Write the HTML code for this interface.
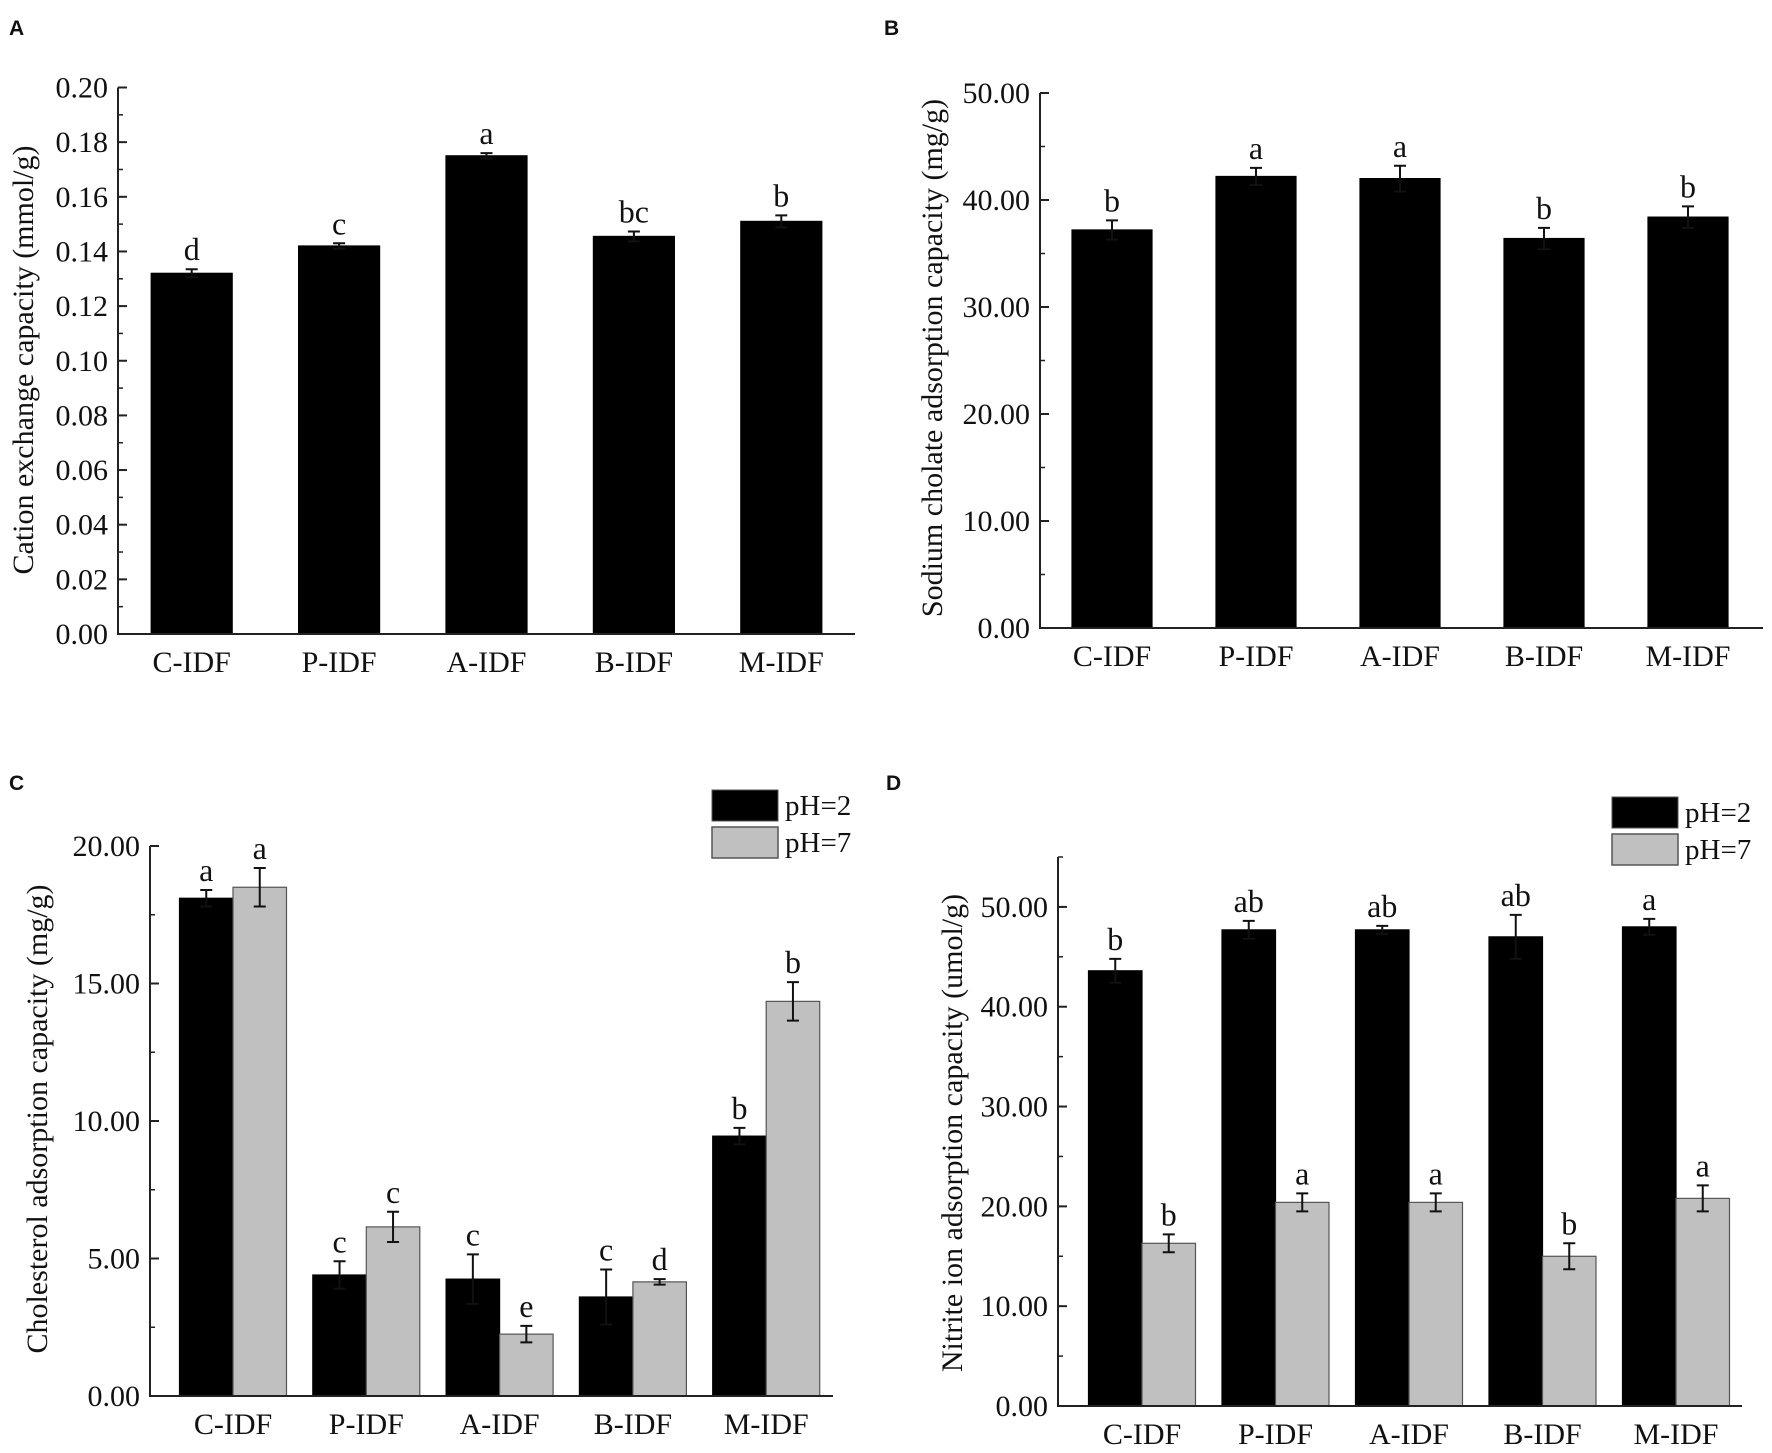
<!DOCTYPE html>
<html><head><meta charset="utf-8">
<style>
html,body{margin:0;padding:0;background:#fff;}
svg{display:block;}
text{font-family:"Liberation Serif",serif;fill:#111;}
.pl{font-family:"Liberation Sans",sans-serif;font-weight:bold;font-size:21px;}
</style></head>
<body>
<svg id="fig" width="1772" height="1453" viewBox="0 0 1772 1453" xmlns="http://www.w3.org/2000/svg"></svg>
<script>
const categories = ["C-IDF","P-IDF","A-IDF","B-IDF","M-IDF"];
// Panel A
const aValues = [0.132,0.142,0.175,0.1455,0.151];
const aErrors = [0.0015,0.001,0.001,0.0018,0.0022];
const aLetters = ["d","c","a","bc","b"];
const aTicks = ["0.00","0.02","0.04","0.06","0.08","0.10","0.12","0.14","0.16","0.18","0.20"];
// Panel B
const bValues = [37.2,42.2,42.0,36.4,38.4];
const bErrors = [0.9,0.8,1.2,1.0,1.0];
const bLetters = ["b","a","a","b","b"];
const bTicks = ["0.00","10.00","20.00","30.00","40.00","50.00"];
// Panel C
const cPH2 = [18.1,4.4,4.25,3.6,9.45];
const cPH2Err = [0.3,0.5,0.9,1.0,0.3];
const cPH7 = [18.5,6.15,2.25,4.15,14.35];
const cPH7Err = [0.7,0.55,0.3,0.1,0.7];
const cLetters2 = ["a","c","c","c","b"];
const cLetters7 = ["a","c","e","d","b"];
const cTicks = ["0.00","5.00","10.00","15.00","20.00"];
// Panel D
const dPH2 = [43.6,47.7,47.7,47.0,48.0];
const dPH2Err = [1.2,0.9,0.4,2.2,0.8];
const dPH7 = [16.3,20.4,20.4,15.0,20.8];
const dPH7Err = [0.9,0.9,0.9,1.3,1.3];
const dLetters2 = ["b","ab","ab","ab","a"];
const dLetters7 = ["b","a","a","b","a"];
const dTicks = ["0.00","10.00","20.00","30.00","40.00","50.00"];

const NS="http://www.w3.org/2000/svg";
const svg=document.getElementById('fig');
function mk(tag,attrs,parent,txt){const e=document.createElementNS(NS,tag);for(const k in attrs)e.setAttribute(k,attrs[k]);if(txt!==undefined)e.textContent=txt;(parent||svg).appendChild(e);return e;}

function panel(o){
  const g=mk('g',{});
  
  
  const y=v=>o.y0-(v-o.min)/(o.max-o.min)*(o.y0-o.yTop);
  const xc=i=>o.c0+i*o.step;
  // panel letter
  const pl=mk('text',{x:o.lx,y:o.ly,class:'pl'},g,o.letter);
  
  
  // bars
  o.series.forEach((s,si)=>{
    s.vals.forEach((v,i)=>{
      const cx=xc(i)+(o.series.length===2?(si===0?-o.bw/2:o.bw/2):0);
      const r=mk('rect',{x:cx-o.bw/2,y:y(v),width:o.bw,height:o.y0-y(v),fill:s.fill,stroke:s.stroke,'stroke-width':1.2},g);
      
      
      const e=s.errs[i];
      const eb=mk('path',{d:`M${cx},${y(v+e)}V${y(v-e)}M${cx-6},${y(v+e)}H${cx+6}M${cx-6},${y(v-e)}H${cx+6}`,stroke:'#111','stroke-width':2,fill:'none'},g);
      
      
      const t=mk('text',{x:cx,y:y(v+e)-9,'text-anchor':'middle','font-size':32},g,s.letters[i]);
      
      
    });
  });
  // axes
  const ax=mk('path',{d:`M${o.x0},${o.yTop}V${o.y0}H${o.x1}`,stroke:'#222','stroke-width':2,fill:'none'},g);
  
  
  o.ticks.forEach(t=>{
    const v=parseFloat(t);
    mk('line',{x1:o.x0,x2:o.x0+9,y1:y(v),y2:y(v),stroke:'#222','stroke-width':2},g);
    const tl=mk('text',{x:o.x0-10,y:y(v)+10,'text-anchor':'end','font-size':30},g,t);
    
    
  });
  for(let v=o.min+o.minor;v<o.max+1e-9;v+=o.minor){
    mk('line',{x1:o.x0,x2:o.x0+5,y1:y(v),y2:y(v),stroke:'#222','stroke-width':1.5},g);
  }
  categories.forEach((c,i)=>{
    const t=mk('text',{x:xc(i),y:o.y0+38,'text-anchor':'middle','font-size':30},g,c);
    
    
  });
  const yt=mk('text',{x:0,y:0,transform:`translate(${o.tx},${o.ty}) rotate(-90)`,'text-anchor':'middle','font-size':30},g,o.title);
  
  
  if(o.legend){
    const L=o.legend;
    const lg=mk('g',{},g);
    
    
    mk('rect',{x:L.x,y:L.y,width:66,height:31,fill:'#000',stroke:'#555'},lg);
    mk('rect',{x:L.x,y:L.y+37,width:66,height:31,fill:'#c0c0c0',stroke:'#555','stroke-width':1.5},lg);
    const t1=mk('text',{x:L.x+73,y:L.y+25,'font-size':29},lg,'pH=2');
    
    
    const t2=mk('text',{x:L.x+73,y:L.y+62,'font-size':29},lg,'pH=7');
    
    
  }
}

panel({name:'panel-a',letter:'A',lx:9,ly:35,x0:118,x1:855,y0:634,yTop:87.5,min:0,max:0.2,minor:0.01,
  c0:118+73.7,step:147.4,bw:81,ticks:aTicks,title:'Cation exchange capacity (mmol/g)',tx:33,ty:360,
  series:[{vals:aValues,errs:aErrors,letters:aLetters,fill:'#000',stroke:'#000'}]});
panel({name:'panel-b',letter:'B',lx:884,ly:35,x0:1040,x1:1763,y0:628,yTop:93,min:0,max:50,minor:5,
  c0:1040+72,step:144,bw:80,ticks:bTicks,title:'Sodium cholate adsorption capacity (mg/g)',tx:942,ty:358,
  series:[{vals:bValues,errs:bErrors,letters:bLetters,fill:'#000',stroke:'#000'}]});
panel({name:'panel-c',letter:'C',lx:9,ly:790,x0:150,x1:833,y0:1396,yTop:846,min:0,max:20,minor:2.5,
  c0:233,step:133.3,bw:53.5,ticks:cTicks,title:'Cholesterol adsorption capacity (mg/g)',tx:47,ty:1119,
  legend:{x:712,y:790},
  series:[{key:'ph2',vals:cPH2,errs:cPH2Err,letters:cLetters2,fill:'#000',stroke:'#000'},
          {key:'ph7',vals:cPH7,errs:cPH7Err,letters:cLetters7,fill:'#c0c0c0',stroke:'#555'}]});
panel({name:'panel-d',letter:'D',lx:886,ly:790,x0:1058,x1:1742,y0:1406,yTop:857,min:0,max:55,minor:5,
  c0:1142,step:133.5,bw:53.5,ticks:dTicks,title:'Nitrite ion adsorption capacity (umol/g)',tx:962,ty:1133,
  legend:{x:1612,y:797},
  series:[{key:'ph2',vals:dPH2,errs:dPH2Err,letters:dLetters2,fill:'#000',stroke:'#000'},
          {key:'ph7',vals:dPH7,errs:dPH7Err,letters:dLetters7,fill:'#c0c0c0',stroke:'#555'}]});
</script>
</body></html>
